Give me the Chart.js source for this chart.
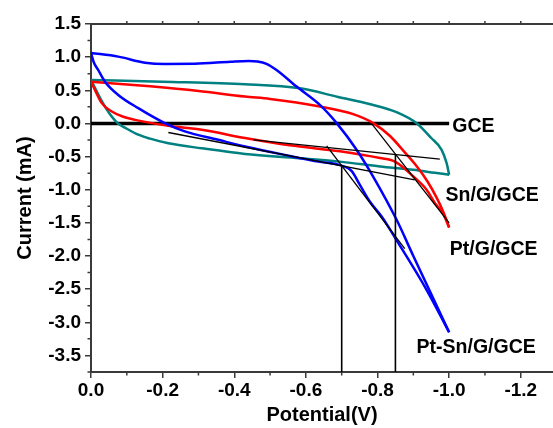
<!DOCTYPE html>
<html>
<head>
<meta charset="utf-8">
<script src="https://cdn.jsdelivr.net/npm/chart.js@4.4.0/dist/chart.umd.min.js"></script>
<style>
  html, body { margin: 0; padding: 0; background: #fff; }
</style>
</head>
<body>
<canvas id="cv" width="553" height="428"></canvas>
<script>
// potential (V) and current (mA)
const gceV = [0, -1.0];
const gceI = [0, 0];

const snFwdV = [0, -0.01, -0.02, -0.035, -0.05, -0.075, -0.1, -0.132, -0.165, -0.216, -0.309, -0.43, -0.583, -0.70, -0.807, -0.9, -0.96, -1.0];
const snFwdI = [0.657, 0.55, 0.44, 0.29, 0.16, 0.0, -0.08, -0.17, -0.23, -0.30, -0.375, -0.46, -0.525, -0.58, -0.649, -0.70, -0.745, -0.774];
const snRevV = [-1.0, -0.993, -0.979, -0.95, -0.91, -0.853, -0.78, -0.69, -0.583, -0.43, -0.2, 0];
const snRevI = [-0.774, -0.60, -0.398, -0.22, 0.0, 0.17, 0.29, 0.40, 0.53, 0.592, 0.63, 0.657];

const ptFwdV = [0, -0.011, -0.03, -0.058, -0.09, -0.123, -0.216, -0.309, -0.43, -0.555, -0.695, -0.807, -0.85, -0.9, -0.937, -0.96, -0.983, -1.0];
const ptFwdI = [0.63, 0.506, 0.306, 0.18, 0.10, 0.054, -0.036, -0.096, -0.22, -0.33, -0.42, -0.523, -0.58, -0.80, -1.0, -1.2, -1.36, -1.57];
const ptRevV = [-1.0, -0.985, -0.965, -0.94, -0.91, -0.875, -0.835, -0.788, -0.732, -0.639, -0.5, -0.43, -0.3, -0.165, 0];
const ptRevI = [-1.57, -1.35, -1.12, -0.88, -0.65, -0.43, -0.19, 0.005, 0.14, 0.255, 0.37, 0.405, 0.49, 0.56, 0.63];

const ptsnFwdV = [0, -0.008, -0.02, -0.039, -0.076, -0.132, -0.206, -0.262, -0.355, -0.43, -0.555, -0.64, -0.695, -0.728, -0.75, -0.78, -0.811, -0.853, -0.937, -1.0];
const ptsnFwdI = [1.063, 0.92, 0.807, 0.63, 0.43, 0.23, 0.005, -0.12, -0.247, -0.348, -0.49, -0.58, -0.63, -0.72, -0.92, -1.19, -1.40, -1.76, -2.51, -3.15];
const ptsnRevV = [-1.0, -0.9, -0.853, -0.793, -0.742, -0.686, -0.639, -0.574, -0.518, -0.49, -0.465, -0.44, -0.39, -0.29, -0.207, -0.151, -0.076, 0];
const ptsnRevI = [-3.15, -2.0, -1.45, -0.85, -0.40, 0.005, 0.28, 0.556, 0.807, 0.90, 0.935, 0.943, 0.932, 0.90, 0.898, 0.917, 1.008, 1.063];

// onset construction lines
const tanBlueBaseV = [-0.216, -0.904];
const tanBlueBaseI = [-0.137, -0.85];
const tanBlueSteepV = [-0.658, -0.876];
const tanBlueSteepI = [-0.34, -1.89];
const tanRedBaseV = [-0.454, -0.974];
const tanRedBaseI = [-0.247, -0.538];
const tanRedSteepV = [-0.783, -1.0];
const tanRedSteepI = [0, -1.50];
const onset1V = [-0.70, -0.70];
const onset1I = [-0.64, -3.75];
const onset2V = [-0.85, -0.85];
const onset2I = [-0.47, -3.75];

const xTicks = [0, -0.2, -0.4, -0.6, -0.8, -1.0, -1.2];
const xMinor = [-0.1, -0.3, -0.5, -0.7, -0.9, -1.1];
const yTicks = [-3.5, -3.0, -2.5, -2.0, -1.5, -1.0, -0.5, 0, 0.5, 1.0, 1.5];
const yMinor = [-3.75, -3.25, -2.75, -2.25, -1.75, -1.25, -0.75, -0.25, 0.25, 0.75, 1.25];

const curveLabels = ['GCE', 'Sn/G/GCE', 'Pt/G/GCE', 'Pt-Sn/G/GCE'];
const labelV = [-1.009, -0.99, -1.002, -0.909];
const labelI = [-0.127, -1.176, -1.979, -3.47];

const axisColor = '#3a3a3a';
const blue = '#0000ff', red = '#ff0000', teal = '#008080';

function pts(vs, is) {
  return vs.map((v, k) => ({ x: v, y: is[k] }));
}

function line(vs, is, color, width, smooth) {
  return {
    data: pts(vs, is),
    showLine: true,
    borderColor: color,
    backgroundColor: color,
    borderWidth: width,
    pointRadius: 0,
    cubicInterpolationMode: smooth ? 'monotone' : 'default',
    tension: 0
  };
}

const minorAndLabels = {
  id: 'minorAndLabels',
  afterDraw(chart) {
    const { ctx, chartArea: a, scales: { x, y } } = chart;
    ctx.save();
    ctx.strokeStyle = axisColor;
    ctx.lineWidth = 1.5;
    ctx.beginPath();
    xMinor.forEach(v => {
      const px = x.getPixelForValue(v);
      ctx.moveTo(px, a.bottom);
      ctx.lineTo(px, a.bottom + 3.5);
    });
    xTicks.concat(xMinor).forEach(v => {
      if (v === 0) return;
      const px = x.getPixelForValue(v);
      ctx.moveTo(px, a.top);
      ctx.lineTo(px, a.top - 3);
    });
    yMinor.forEach(v => {
      const py = y.getPixelForValue(v);
      ctx.moveTo(a.left, py);
      ctx.lineTo(a.left - 3.5, py);
    });
    ctx.stroke();

    ctx.fillStyle = '#000';
    ctx.font = 'bold 19.5px Arial, "Liberation Sans", sans-serif';
    ctx.textAlign = 'left';
    ctx.textBaseline = 'alphabetic';
    curveLabels.forEach((t, k) => {
      ctx.fillText(t, x.getPixelForValue(labelV[k]), y.getPixelForValue(labelI[k]));
    });
    ctx.restore();
  }
};

const tickFont = { family: 'Arial, "Liberation Sans", sans-serif', size: 19, weight: 'bold' };
const titleFont = { family: 'Arial, "Liberation Sans", sans-serif', size: 20, weight: 'bold' };

new Chart(document.getElementById('cv'), {
  type: 'scatter',
  data: {
    datasets: [
      line(tanBlueBaseV, tanBlueBaseI, '#000', 1.3, false),
      line(tanBlueSteepV, tanBlueSteepI, '#000', 1.3, false),
      line(tanRedBaseV, tanRedBaseI, '#000', 1.3, false),
      line(tanRedSteepV, tanRedSteepI, '#000', 1.3, false),
      line(onset1V, onset1I, '#000', 1.6, false),
      line(onset2V, onset2I, '#000', 1.6, false),
      line(ptsnFwdV, ptsnFwdI, blue, 2.5, true),
      line(ptsnRevV, ptsnRevI, blue, 2.5, true),
      line(ptFwdV, ptFwdI, red, 2.5, true),
      line(ptRevV, ptRevI, red, 2.5, true),
      line(snFwdV, snFwdI, teal, 2.5, true),
      line(snRevV, snRevI, teal, 2.5, true),
      line(gceV, gceI, '#000', 3.5, false)
    ]
  },
  options: {
    responsive: false,
    animation: false,
    events: [],
    layout: { padding: 0 },
    plugins: { legend: { display: false }, tooltip: { enabled: false } },
    scales: {
      x: {
        type: 'linear',
        position: 'bottom',
        min: -1.29,
        max: 0,
        reverse: true,
        afterBuildTicks: s => { s.ticks = xTicks.map(v => ({ value: v })); },
        afterFit: s => { s.height = 56; },
        ticks: {
          callback: v => v.toFixed(1),
          color: '#000',
          font: tickFont,
          padding: 1,
          maxRotation: 0,
          autoSkip: false
        },
        grid: { drawOnChartArea: false, drawTicks: true, tickLength: 6, color: axisColor, lineWidth: 1.5 },
        border: { display: true, color: axisColor, width: 2 },
        title: { display: true, text: 'Potential(V)', color: '#000', font: titleFont, padding: { top: 0, bottom: 1 } }
      },
      x2: {
        type: 'linear',
        position: 'top',
        min: -1.29,
        max: 0,
        reverse: true,
        afterFit: s => { s.height = 24; },
        ticks: { display: false },
        grid: { drawOnChartArea: false, drawTicks: false },
        border: { display: true, color: axisColor, width: 2 }
      },
      y: {
        type: 'linear',
        min: -3.75,
        max: 1.5,
        afterBuildTicks: s => { s.ticks = yTicks.map(v => ({ value: v })); },
        afterFit: s => { s.width = 91; },
        ticks: {
          callback: v => v.toFixed(1),
          color: '#000',
          font: tickFont,
          padding: 4,
          autoSkip: false
        },
        grid: { drawOnChartArea: false, drawTicks: true, tickLength: 6, color: axisColor, lineWidth: 1.5 },
        border: { display: true, color: axisColor, width: 2 },
        title: { display: true, text: 'Current (mA)', color: '#000', font: titleFont, padding: { top: 13, bottom: 0 } }
      }
    }
  },
  plugins: [minorAndLabels]
});
</script>
</body>
</html>
